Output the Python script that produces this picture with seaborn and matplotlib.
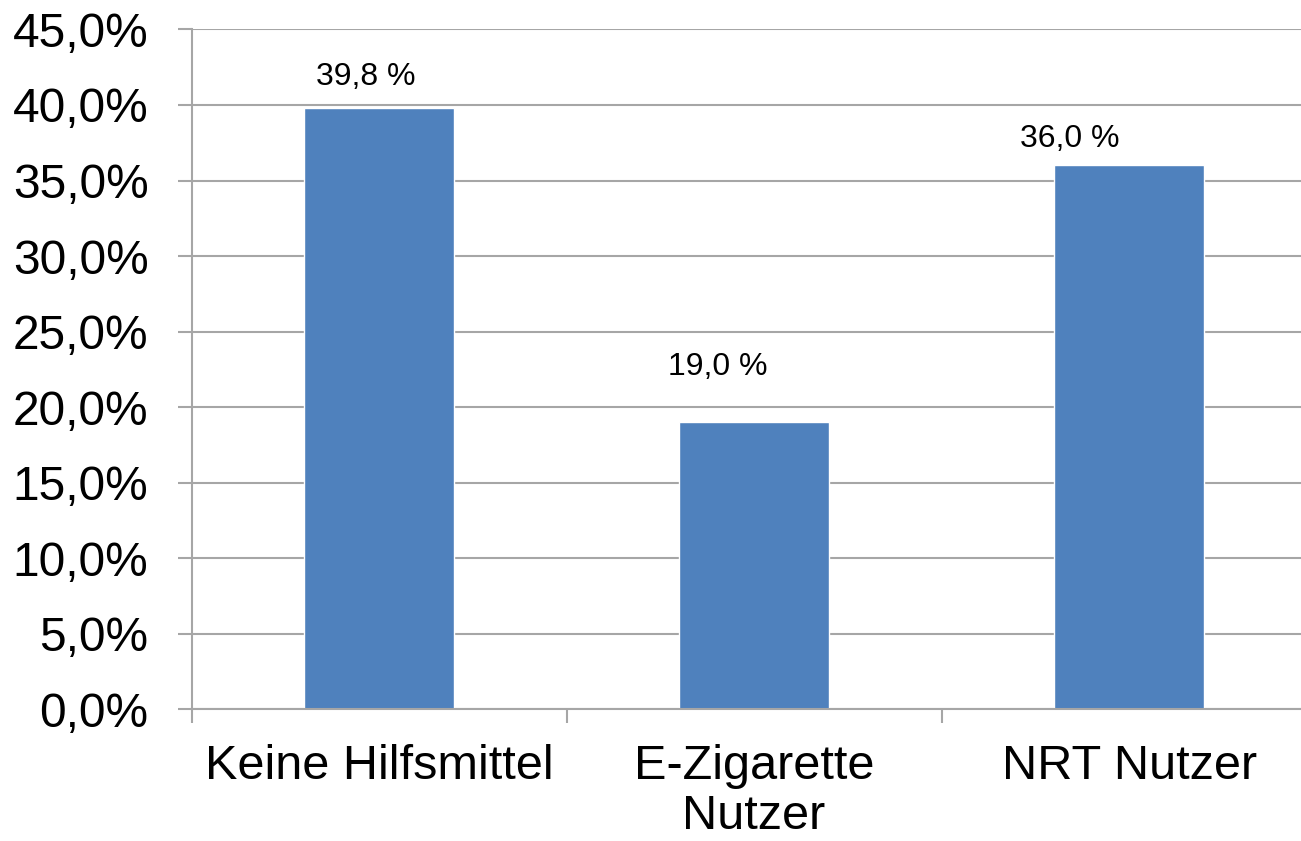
import matplotlib
matplotlib.use("Agg")
import matplotlib.pyplot as plt
import seaborn as sns
import pandas as pd

# Share of successful quitters by cessation aid
categories = ["Keine Hilfsmittel", "E-Zigarette\nNutzer", "NRT Nutzer"]
values = [39.8, 19.0, 36.0]
value_labels = ["39,8 %", "19,0 %", "36,0 %"]
y_ticks = [0, 5, 10, 15, 20, 25, 30, 35, 40, 45]
y_tick_labels = ["0,0%", "5,0%", "10,0%", "15,0%", "20,0%", "25,0%",
                 "30,0%", "35,0%", "40,0%", "45,0%"]

sns.set_theme(style="white")
plt.rcParams["font.family"] = ["Liberation Sans", "DejaVu Sans"]

df = pd.DataFrame({"Gruppe": categories, "Anteil": values})

fig = plt.figure(figsize=(13.01, 8.41), dpi=100)
ax = fig.add_axes([0.1473, 0.1564, 0.8647, 0.8086])

grid_color = "#a6a6a6"
ax.set_axisbelow(True)
ax.yaxis.grid(True, color=grid_color, linewidth=1.5)

sns.barplot(data=df, x="Gruppe", y="Anteil", color="#4f81bd",
            saturation=1, width=0.4, ax=ax)

ax.set_ylim(0, 45)
ax.set_xlim(-0.5, 2.5)
ax.set_yticks(y_ticks)
ax.set_yticklabels(y_tick_labels)
ax.set_xticks([-0.5, 0.5, 1.5])
ax.set_xticklabels([])
ax.set_xticks([0, 1, 2], minor=True)
ax.set_xticklabels(categories, minor=True)
ax.set_xlabel("")
ax.set_ylabel("")

for side in ["top", "right"]:
    ax.spines[side].set_visible(False)
for side in ["left", "bottom"]:
    ax.spines[side].set_color(grid_color)
    ax.spines[side].set_linewidth(1.5)

ax.tick_params(axis="y", which="major", length=10, width=1.5,
               color=grid_color, pad=21, labelsize=34.5, labelcolor="black",
               left=True)
ax.tick_params(axis="x", which="major", length=10, width=1.5,
               color=grid_color, bottom=True)
ax.tick_params(axis="x", which="minor", length=0, pad=25, labelsize=35,
               labelcolor="black", bottom=True)
for lbl in ax.get_xticklabels(minor=True):
    lbl.set_linespacing(1.15)

# Value labels above the bars (pixel offsets from each bar's top centre)
label_offsets = [(-13, 23), (-36, 47), (-59, 18)]
for i, (v, txt) in enumerate(zip(values, value_labels)):
    dx, dy = label_offsets[i]
    ax.annotate(txt, xy=(i, v), xytext=(dx, dy), textcoords="offset pixels",
                ha="center", va="baseline", fontsize=23, color="black")

fig.savefig("out.png", dpi=100, facecolor="white")
